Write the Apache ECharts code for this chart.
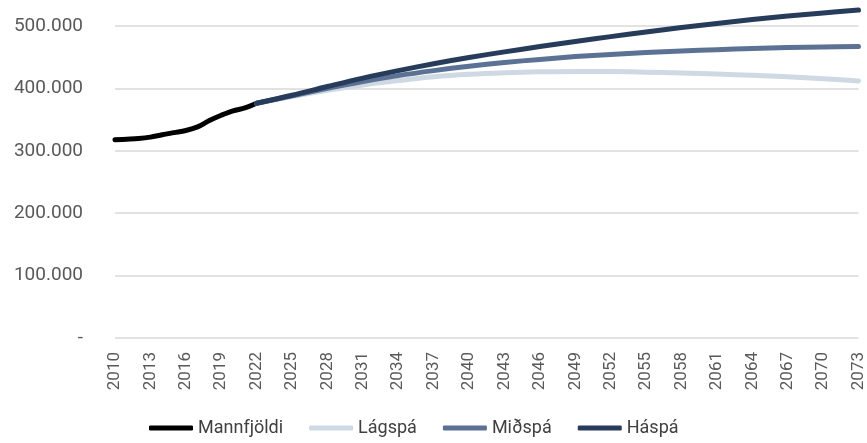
<!DOCTYPE html>
<html lang="is">
<head>
    <meta charset="UTF-8">
    <title>Mannfjöldaspá</title>
    <script src="https://cdn.jsdelivr.net/npm/echarts@6/dist/echarts.min.js"></script>
    <style>
        html, body { margin: 0; padding: 0; background: #fff; }
    </style>
</head>
<body>
<div id="main" style="width: 867px; height: 443px;"></div>
<script>
    // mannfjöldi 1. jan
    var yearsHist = [2010, 2011, 2012, 2013, 2014, 2015, 2016, 2017, 2018, 2019, 2020, 2021, 2022];
    var mannfjoldi = [317600, 318500, 319600, 321900, 325700, 329100, 332500, 338300, 348500, 357000, 364100, 368600, 376200];

    // spár, lesið á 3 ára fresti
    var yearsSpa = [2022, 2025, 2028, 2031, 2034, 2037, 2040, 2043, 2046, 2049, 2052, 2055, 2058, 2061, 2064, 2067, 2070, 2073];
    var lagspa = [376200, 387000, 397000, 405500, 412500, 418500, 422500, 425000, 426500, 427000, 427000, 426000, 424500, 423000, 421000, 418500, 415500, 412000];
    var midspa = [376200, 388000, 400000, 411000, 420500, 428500, 435500, 441500, 446500, 451000, 454500, 457500, 460000, 462000, 464000, 465500, 466500, 467000];
    var haspa = [376200, 389000, 403000, 416500, 428500, 439500, 449500, 458500, 467000, 475000, 483000, 490500, 497500, 504000, 510500, 516000, 521000, 525500];

    function pairs(xs, ys) {
        var out = [];
        for (var i = 0; i < xs.length; i++) {
            out.push([xs[i], ys[i]]);
        }
        return out;
    }

    function fmt(v) {
        if (v === 0) return '-';
        return String(v).replace(/\B(?=(\d{3})+(?!\d))/g, '.');
    }

    var font = 'Roboto, "Noto Sans", sans-serif';

    function line(name, color, data) {
        return {
            name: name,
            type: 'line',
            data: data,
            smooth: 0.35,
            clip: false, // háspá fer upp fyrir 500.000
            showSymbol: false,
            symbol: 'none',
            lineStyle: { color: color, width: 5, cap: 'round', join: 'round' },
            itemStyle: { color: color }
        };
    }

    var myCharts = echarts.init(document.getElementById('main'));
    var option = {
        animation: false,
        grid: {
            left: 115,
            right: 2,
            top: 26,
            bottom: 105
        },
        legend: {
            left: 144,
            bottom: 1,
            icon: 'roundRect',
            itemWidth: 44,
            itemHeight: 5,
            itemGap: 26,
            textStyle: { fontFamily: font, fontSize: 18, color: '#404040' },
            data: ['Mannfjöldi', 'Lágspá', 'Miðspá', 'Háspá']
        },
        xAxis: {
            type: 'value',
            min: 2010,
            max: 2073,
            interval: 3,
            axisLine: { show: false },
            axisTick: { show: false },
            splitLine: { show: false },
            axisLabel: {
                rotate: 90,
                margin: 14,
                fontFamily: font,
                fontSize: 17,
                color: '#595959',
                formatter: function (v) { return String(v); }
            }
        },
        yAxis: {
            type: 'value',
            min: 0,
            max: 500000,
            interval: 100000,
            axisLine: { show: false },
            axisTick: { show: false },
            splitLine: { lineStyle: { color: '#d9d9d9', width: 1.5 } },
            axisLabel: {
                margin: 32,
                fontFamily: font,
                fontSize: 19,
                color: '#595959',
                formatter: fmt
            }
        },
        series: [
            line('Mannfjöldi', '#000000', pairs(yearsHist, mannfjoldi)),
            line('Lágspá', '#cfd9e3', pairs(yearsSpa, lagspa)),
            line('Miðspá', '#5b7294', pairs(yearsSpa, midspa)),
            line('Háspá', '#273b5a', pairs(yearsSpa, haspa))
        ]
    };
    myCharts.setOption(option);
</script>
</body>
</html>
